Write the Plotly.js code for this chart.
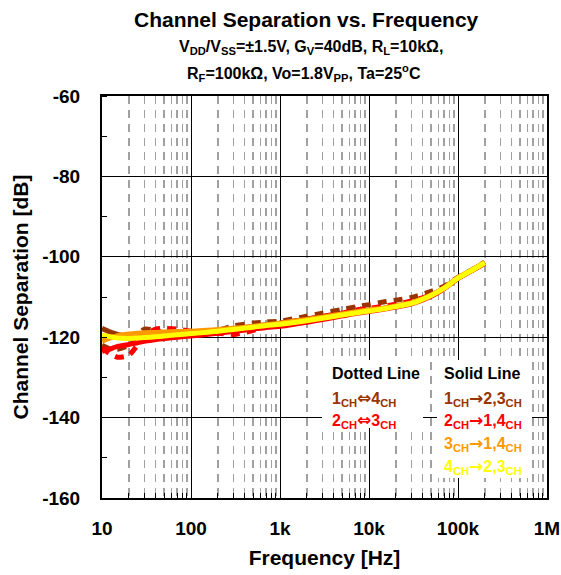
<!DOCTYPE html>
<html>
<head>
<meta charset="utf-8">
<script src="https://cdn.plot.ly/plotly-3.0.1.min.js"></script>
<style>html,body{margin:0;padding:0;background:#fff}#chart{width:561px;height:575px}</style>
</head>
<body>
<div id="chart"></div>
<script>
// ---- data ----
const freq = [10, 12, 15, 20, 25, 30, 40, 50, 70, 100, 150, 200, 300, 500, 700, 1000, 2000, 3000, 5000, 7000, 10000, 15000, 20000, 30000, 50000, 70000, 100000, 150000, 200000];

const ch1_4_dotted = [-122.0, -122.8, -123.0, -122.0, -119.5, -118.0, -118.3, -119.0, -119.5, -119.5, -119.0, -118.3, -117.2, -116.5, -116.2, -116.0, -114.8, -114.0, -113.1, -112.5, -111.9, -111.2, -110.8, -110.1, -108.6, -107.3, -105.1, -103.0, -101.3];
const ch2_3_dotted = [-122.5, -124.0, -125.0, -124.5, -122.0, -119.5, -118.0, -117.8, -118.0, -118.5, -118.8, -119.0, -119.3, -118.3, -117.0, -116.5, -115.5, -114.8, -114.0, -113.3, -112.8, -112.3, -111.8, -111.0, -109.5, -107.8, -105.3, -103.1, -101.5];
const ch1_to_23 = [-117.8, -118.6, -119.3, -119.8, -120.0, -120.0, -120.0, -119.8, -119.5, -119.2, -118.8, -118.5, -118.0, -117.3, -116.9, -116.5, -115.5, -114.9, -114.2, -113.7, -113.3, -112.8, -112.3, -111.5, -109.6, -107.8, -105.3, -103.1, -101.5];
const ch2_to_14 = [-123.5, -123.0, -122.3, -121.8, -121.4, -121.0, -120.6, -120.3, -120.0, -119.7, -119.3, -119.0, -118.6, -118.0, -117.6, -117.3, -116.3, -115.6, -114.7, -114.1, -113.6, -113.0, -112.5, -111.7, -109.8, -107.9, -105.4, -103.2, -101.6];
const ch3_to_14 = [-121.0, -120.3, -119.6, -119.2, -119.0, -118.9, -118.8, -118.7, -118.6, -118.5, -118.3, -118.1, -117.8, -117.3, -116.9, -116.5, -115.6, -115.0, -114.2, -113.7, -113.2, -112.7, -112.2, -111.4, -109.5, -107.7, -105.2, -103.0, -101.4];
const ch4_to_23 = [-119.5, -119.8, -120.2, -120.3, -120.2, -120.1, -119.9, -119.7, -119.4, -119.1, -118.8, -118.5, -118.1, -117.5, -117.1, -116.8, -115.9, -115.3, -114.5, -114.0, -113.5, -112.9, -112.4, -111.6, -109.6, -107.8, -105.3, -103.1, -101.5];

const xTickVals = [10, 100, 1000, 10000, 100000, 1000000];
const xTickText = ["10", "100", "1k", "10k", "100k", "1M"];
const yTickVals = [-160, -140, -120, -100, -80, -60];
const yTickText = ["-160", "-140", "-120", "-100", "-80", "-60"];

const seriesNames = ["1CH⇔4CH", "2CH⇔3CH", "1CH→2,3CH", "2CH→1,4CH", "3CH→1,4CH", "4CH→2,3CH"];
// ---- end data ----

const BROWN = "#993300", RED = "#ff0000", ORANGE = "#ff9900", YELLOW = "#ffff00";
const FONT = "Liberation Sans, Arial, Helvetica, sans-serif";

// minor log ticks 2..9 per decade
const minorVals = [];
for (let d = 1; d < 6; d++) for (let m = 2; m <= 9; m++) minorVals.push(m * Math.pow(10, d));

function tr(y, color, dash, name) {
  return {x: freq, y: y, type: "scatter", mode: "lines", name: name,
          line: {color: color, width: 5, dash: dash, shape: "spline", smoothing: 0.6},
          hoverinfo: "skip"};
}
const DOT = "9px,7px";
const traces = [
  tr(ch1_4_dotted, BROWN, DOT, seriesNames[0]),
  tr(ch2_3_dotted, RED, DOT, seriesNames[1]),
  tr(ch1_to_23, BROWN, "solid", seriesNames[2]),
  tr(ch2_to_14, RED, "solid", seriesNames[3]),
  tr(ch3_to_14, ORANGE, "solid", seriesNames[4]),
  tr(ch4_to_23, YELLOW, "solid", seriesNames[5])
];

function px2x(p){ return (p - 102) / 445; }
function px2y(p){ return (498 - p) / 402; }

const sub = s => "<sub>" + s + "</sub>";
const AR = s => '<span style="font-family:DejaVu Sans;font-size:17px">' + s + '</span>';
const lg = (t, x, y, c) => ({text: t, x: px2x(x), y: px2y(y), xref: "paper", yref: "paper",
  xanchor: "left", yanchor: "middle", showarrow: false,
  font: {family: FONT, size: 16, color: c}});

const annotations = [
  {text: "<b>Channel Separation vs. Frequency</b>", x: px2x(306), y: px2y(20), xref: "paper", yref: "paper",
   xanchor: "center", yanchor: "middle", showarrow: false, font: {family: FONT, size: 21, color: "#000"}},
  {text: "<b>V" + sub("DD") + "/V" + sub("SS") + "=±1.5V, G" + sub("V") + "=40dB, R" + sub("L") + "=10kΩ,</b>",
   x: px2x(311), y: px2y(47), xref: "paper", yref: "paper", xanchor: "center", yanchor: "middle",
   showarrow: false, font: {family: FONT, size: 16, color: "#000"}},
  {text: "<b>R" + sub("F") + "=100kΩ, Vo=1.8V" + sub("PP") + ", Ta=25<sup>o</sup>C</b>",
   x: px2x(304), y: px2y(73), xref: "paper", yref: "paper", xanchor: "center", yanchor: "middle",
   showarrow: false, font: {family: FONT, size: 16, color: "#000"}},
  lg("<b>Dotted Line</b>", 330, 373, "#000"),
  lg("<b>Solid Line</b>", 442, 373, "#000"),
  lg("<b>1" + sub("CH") + AR("⇔") + "4" + sub("CH") + "</b>", 330, 398, BROWN),
  lg("<b>2" + sub("CH") + AR("⇔") + "3" + sub("CH") + "</b>", 330, 420, RED),
  lg("<b>1" + sub("CH") + AR("→") + "2,3" + sub("CH") + "</b>", 442, 398, BROWN),
  lg("<b>2" + sub("CH") + AR("→") + "1,4" + sub("CH") + "</b>", 442, 420, RED),
  lg("<b>3" + sub("CH") + AR("→") + "1,4" + sub("CH") + "</b>", 442, 443, ORANGE),
  lg("<b>4" + sub("CH") + AR("→") + "2,3" + sub("CH") + "</b>", 442, 466, YELLOW)
];

const shapes = [
  {type: "rect", xref: "paper", yref: "paper", x0: px2x(322), x1: px2x(423), y0: px2y(428), y1: px2y(360),
   fillcolor: "#fff", line: {width: 0}, layer: "above"},
  {type: "rect", xref: "paper", yref: "paper", x0: px2x(437), x1: px2x(532), y0: px2y(478), y1: px2y(360),
   fillcolor: "#fff", line: {width: 0}, layer: "above"}
];

const layout = {
  width: 561, height: 575,
  margin: {l: 102, r: 14, t: 96, b: 77},
  paper_bgcolor: "#fff", plot_bgcolor: "#fff",
  showlegend: false,
  font: {family: FONT, color: "#000"},
  xaxis: {
    type: "log", range: [1, 6],
    tickmode: "array", tickvals: xTickVals, ticktext: xTickText,
    tickfont: {family: FONT, size: 19, weight: "bold", color: "#000"},
    ticks: "", ticklabelstandoff: 12,
    showgrid: true, gridcolor: "#000", gridwidth: 1,
    showline: true, linecolor: "#000", linewidth: 2, mirror: true,
    zeroline: false,
    minor: {tickmode: "array", tickvals: minorVals, ticks: "inside", ticklen: 5, tickcolor: "#000", tickwidth: 1,
            showgrid: true, gridcolor: "#a0a0a0", gridwidth: 1.5, griddash: "8px,6px"},
    title: {text: "<b>Frequency [Hz]</b>", font: {family: FONT, size: 21, color: "#000"}, standoff: 13}
  },
  yaxis: {
    range: [-160, -60],
    tickmode: "array", tickvals: yTickVals, ticktext: yTickText,
    tickfont: {family: FONT, size: 19, weight: "bold", color: "#000"},
    ticks: "", ticklabelstandoff: 16,
    showgrid: true, gridcolor: "#000", gridwidth: 1,
    showline: true, linecolor: "#000", linewidth: 2, mirror: true,
    zeroline: false,
    minor: {dtick: 10, ticks: "inside", ticklen: 5, tickcolor: "#000", tickwidth: 1, showgrid: false},
    title: {text: "<b>Channel Separation [dB]</b>", font: {family: FONT, size: 21, color: "#000"}, standoff: 8}
  },
  annotations: annotations,
  shapes: shapes
};

Plotly.newPlot("chart", traces, layout, {staticPlot: true, displayModeBar: false});
</script>
</body>
</html>
